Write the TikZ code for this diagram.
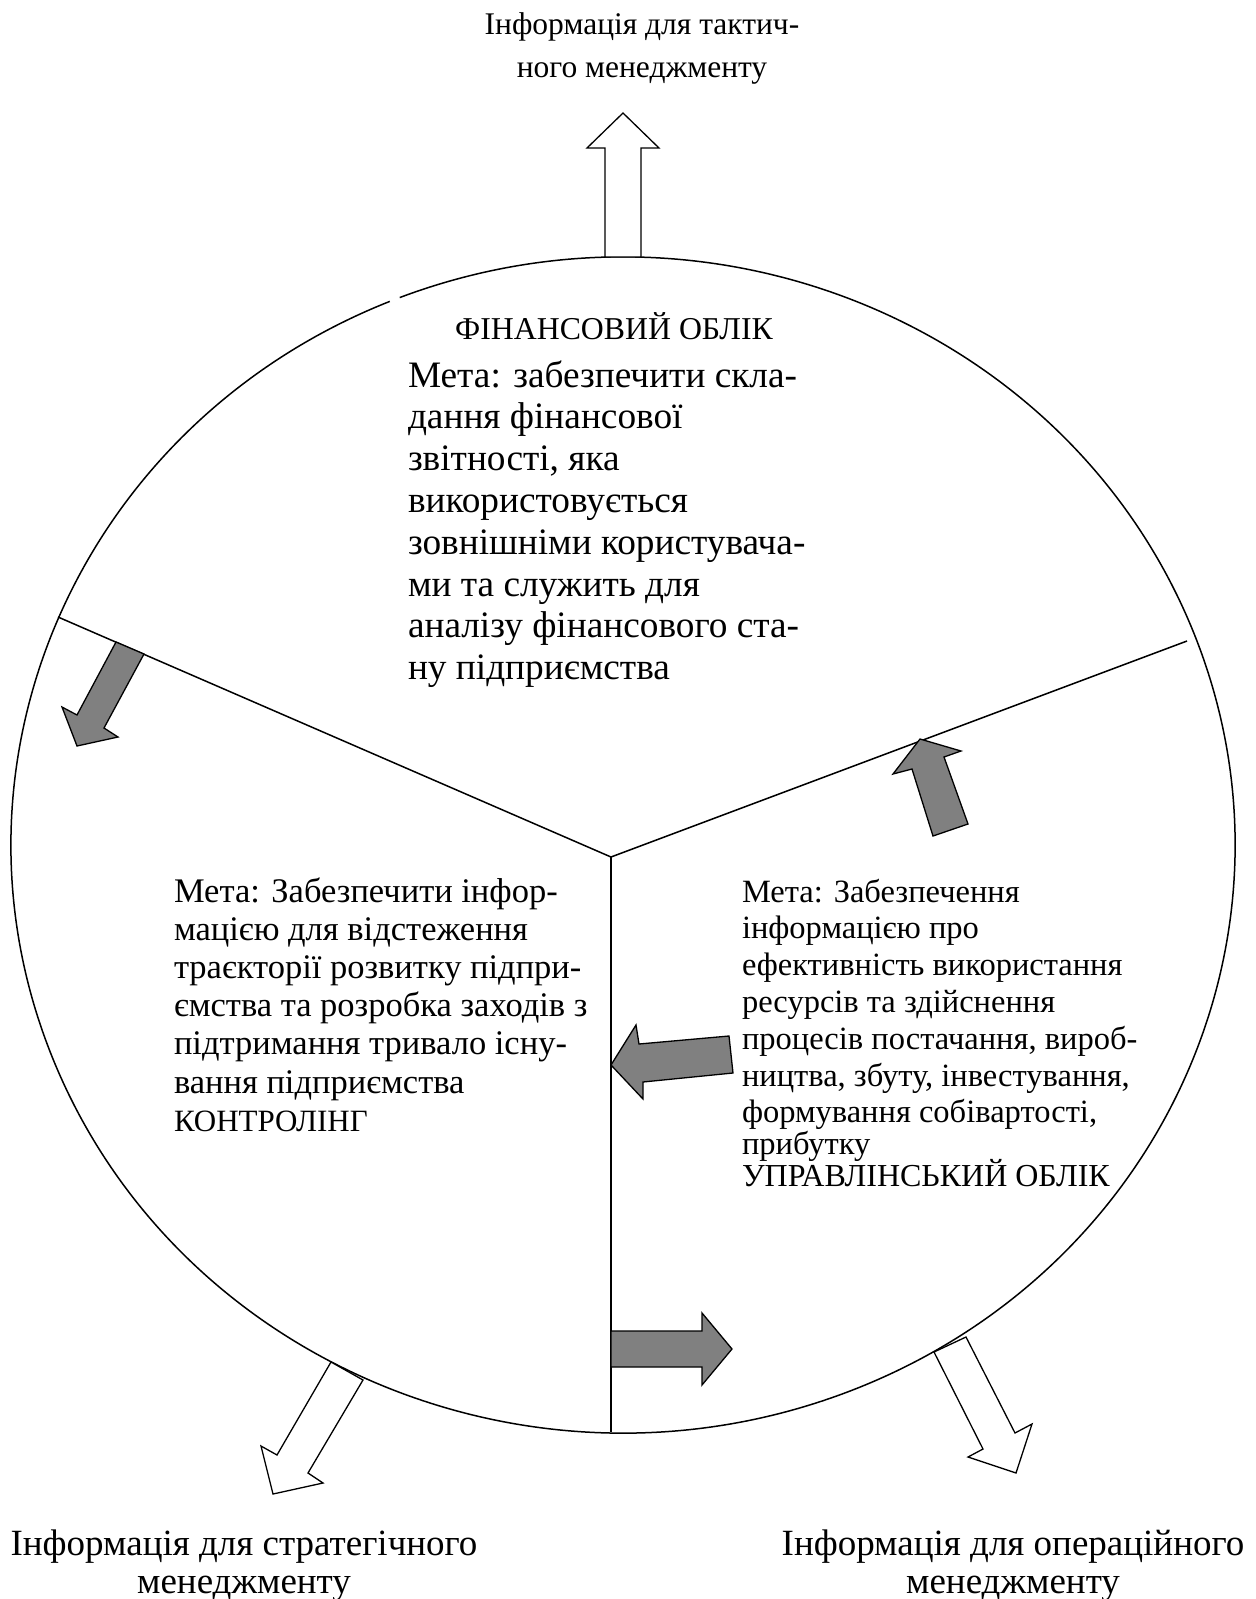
\documentclass[tikz,border=0pt]{standalone}
\usepackage{fontspec}
\setmainfont{Liberation Serif}
\begin{document}
\begin{tikzpicture}[x=1pt,y=-1pt,
  outline/.style={line width=1.5pt},
  grayblock/.style={draw, line width=1.3pt, fill=black!50, line join=miter},
  whiteblock/.style={draw, line width=1.3pt, fill=white, line join=miter},
  txt/.style={inner sep=0pt, outer sep=0pt}]
\useasboundingbox (0,0) rectangle (1256,1599);

% outer ellipse (with a small break at the upper left) and the three sector borders
\coordinate (hub) at (611,857);
\coordinate (lend) at (58,617);
\coordinate (rend) at (1187,641);
\coordinate (bend) at (611,1432);
\draw[outline] (623,845) ++(248.6:612 and 588) arc [start angle=248.6, end angle=607.6, x radius=612, y radius=588];
\draw[outline] (hub) -- (lend);
\draw[outline] (hub) -- (rend);
\draw[outline] (hub) -- (bend);

% grey block arrows between the sectors
\draw[grayblock] (116,642) -- (77,715) -- (62,707) -- (77,746) -- (118,737) -- (104,728) -- (144,654) -- cycle;
\draw[grayblock] (933,836) -- (912,769) -- (893,774) -- (920,739) -- (961,751) -- (944,757) -- (968,824) -- cycle;
\draw[grayblock] (733,1073) -- (643,1082) -- (643,1099) -- (611,1065) -- (636,1025) -- (639,1044) -- (729,1036) -- cycle;
\draw[grayblock] (611,1331) -- (702,1331) -- (702,1313) -- (732,1349) -- (702,1385) -- (702,1367) -- (611,1367) -- cycle;

% white block arrows leading out to management levels
\draw[whiteblock] (605,257) -- (605,148) -- (587,148) -- (623,113) -- (659,148) -- (641,148) -- (641,257) -- cycle;
\draw[whiteblock] (331,1362) -- (277,1455) -- (261,1446) -- (273,1494) -- (323,1483) -- (308,1473) -- (363,1380) -- cycle;
\draw[whiteblock] (934,1352) -- (983,1449) -- (968,1457) -- (1016,1473) -- (1032,1424) -- (1015,1433) -- (966,1337) -- cycle;

% labels outside the ellipse
\node[txt, anchor=base] (tactic) at (642,34) {\fontsize{31.5}{43}\selectfont
  \begin{tabular}[t]{@{}c@{}}Інформація для тактич-\\ного менеджменту\end{tabular}};
\node[txt, anchor=base] (strategic) at (244,1555) {\fontsize{37}{38}\selectfont
  \begin{tabular}[t]{@{}c@{}}Інформація для стратегічного\\менеджменту\end{tabular}};
\node[txt, anchor=base] (operational) at (1013,1555) {\fontsize{37}{38}\selectfont
  \begin{tabular}[t]{@{}c@{}}Інформація для операційного\\менеджменту\end{tabular}};

% financial accounting sector
\node[txt, anchor=base] (fintitle) at (614,339) {\fontsize{31.8}{36}\selectfont ФІНАНСОВИЙ ОБЛІК};
\node[txt, anchor=base west] (fingoal) at (408,387) {\fontsize{37.3}{41.8}\selectfont
  \begin{tabular}[t]{@{}l@{}}Мета: забезпечити скла-\\дання фінансової\\звітності, яка\\використовується\\зовнішніми користувача-\\ми та служить для\\аналізу фінансового ста-\\ну підприємства\end{tabular}};

% controlling sector
\node[txt, anchor=base west] (ctrlgoal) at (174,902) {\fontsize{34.5}{38.2}\selectfont
  \begin{tabular}[t]{@{}l@{}}Мета: Забезпечити інфор-\\мацією для відстеження\\траєкторії розвитку підпри-\\ємства та розробка заходів з\\підтримання тривало існу-\\вання підприємства\\{\fontsize{31}{38.2}\selectfont КОНТРОЛІНГ}\end{tabular}};

% management accounting sector
\node[txt, anchor=base west] (mgmtgoal) at (742,902) {\fontsize{32.5}{36.8}\selectfont
  \begin{tabular}[t]{@{}l@{}}Мета: Забезпечення\\інформацією про\\ефективність використання\\ресурсів та здійснення\\процесів постачання, вироб-\\ництва, збуту, інвестування,\\формування собівартості,\\[-4.8pt]прибутку\\[-6.8pt]{\fontsize{32}{36.8}\selectfont УПРАВЛІНСЬКИЙ ОБЛІК}\end{tabular}};
\end{tikzpicture}
\end{document}
